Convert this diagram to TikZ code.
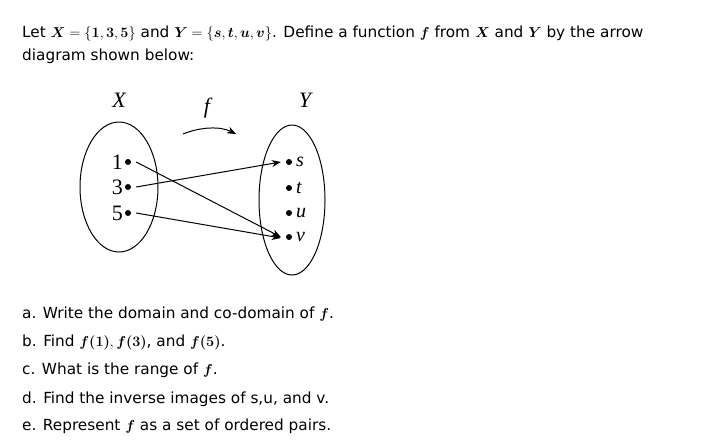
\documentclass[tikz,border=0pt]{standalone}
\usepackage{fontspec}
\usepackage{bm}
\usetikzlibrary{arrows.meta}
\setmainfont{DejaVu Sans}
\newfontfamily\serifm{Liberation Serif}
\tikzset{
 txt/.style={anchor=base west,inner sep=0pt,font=\fontsize{15.3}{18}\selectfont},
 dot/.style={circle,fill=black,inner sep=0pt,minimum size=6pt},
 lab/.style={inner sep=0pt,font=\serifm\fontsize{22}{22}\selectfont},
 ilab/.style={inner sep=0pt,font=\serifm\itshape\fontsize{22}{22}\selectfont},
 arr/.style={-{Stealth[length=9pt,width=7pt]},line width=1pt}
}
\begin{document}
\begin{tikzpicture}[x=1pt,y=-1pt]
\useasboundingbox (0,0) rectangle (719,445);
\node[txt] (t1) at (22,37) {Let $\bm{X}=\{\bm{1},\bm{3},\bm{5}\}$ and $\bm{Y}=\{\bm{s},\bm{t},\bm{u},\bm{v}\}$. Define a function $\bm{f}$ from $\bm{X}$ and $\bm{Y}$ by the arrow};
\node[txt] (t2) at (22,60) {diagram shown below:};
\draw[line width=1pt] (119,187) ellipse [x radius=39,y radius=65];
\draw[line width=1pt] (292,200) ellipse [x radius=33,y radius=75];
\node[ilab] (X) at (119,100) {X};
\node[ilab] (Y) at (305,100) {Y};
\node[ilab] (f) at (207,108) {f};
\coordinate (fa) at (183,134);
\coordinate (fb) at (236,134);
\draw[arr] (fa) .. controls (200,127) and (220,126) .. (fb);
\foreach \n/\y in {1/162,3/187,5/213}{
 \node[dot] (x\n) at (128,\y) {};
 \node[lab,anchor=east] (lx\n) at (123,\y) {\n};
}
\foreach \n/\y in {s/162,t/188,u/213,v/237}{
 \node[dot] (y\n) at (289,\y) {};
 \node[ilab,anchor=west,font=\serifm\itshape\fontsize{20}{20}\selectfont] (ly\n) at (296,\y) {\n};
}
\draw[arr] ([xshift=5pt]x1.east) -- ([xshift=-5pt]yv.west);
\draw[arr] ([xshift=5pt]x3.east) -- ([xshift=-5pt]ys.west);
\draw[arr] ([xshift=5pt]x5.east) -- ([xshift=-5pt,yshift=-1pt]yv.west);
\node[txt] (a) at (22,318) {a. Write the domain and co-domain of $\bm{f}$.};
\node[txt] (b) at (22,346) {b. Find $\bm{f(1)},\bm{f(3)}$, and $\bm{f(5)}$.};
\node[txt] (c) at (22,374) {c. What is the range of $\bm{f}$.};
\node[txt] (d) at (22,403) {d. Find the inverse images of s,u, and v.};
\node[txt] (e) at (22,430) {e. Represent $\bm{f}$ as a set of ordered pairs.};
\end{tikzpicture}
\end{document}
